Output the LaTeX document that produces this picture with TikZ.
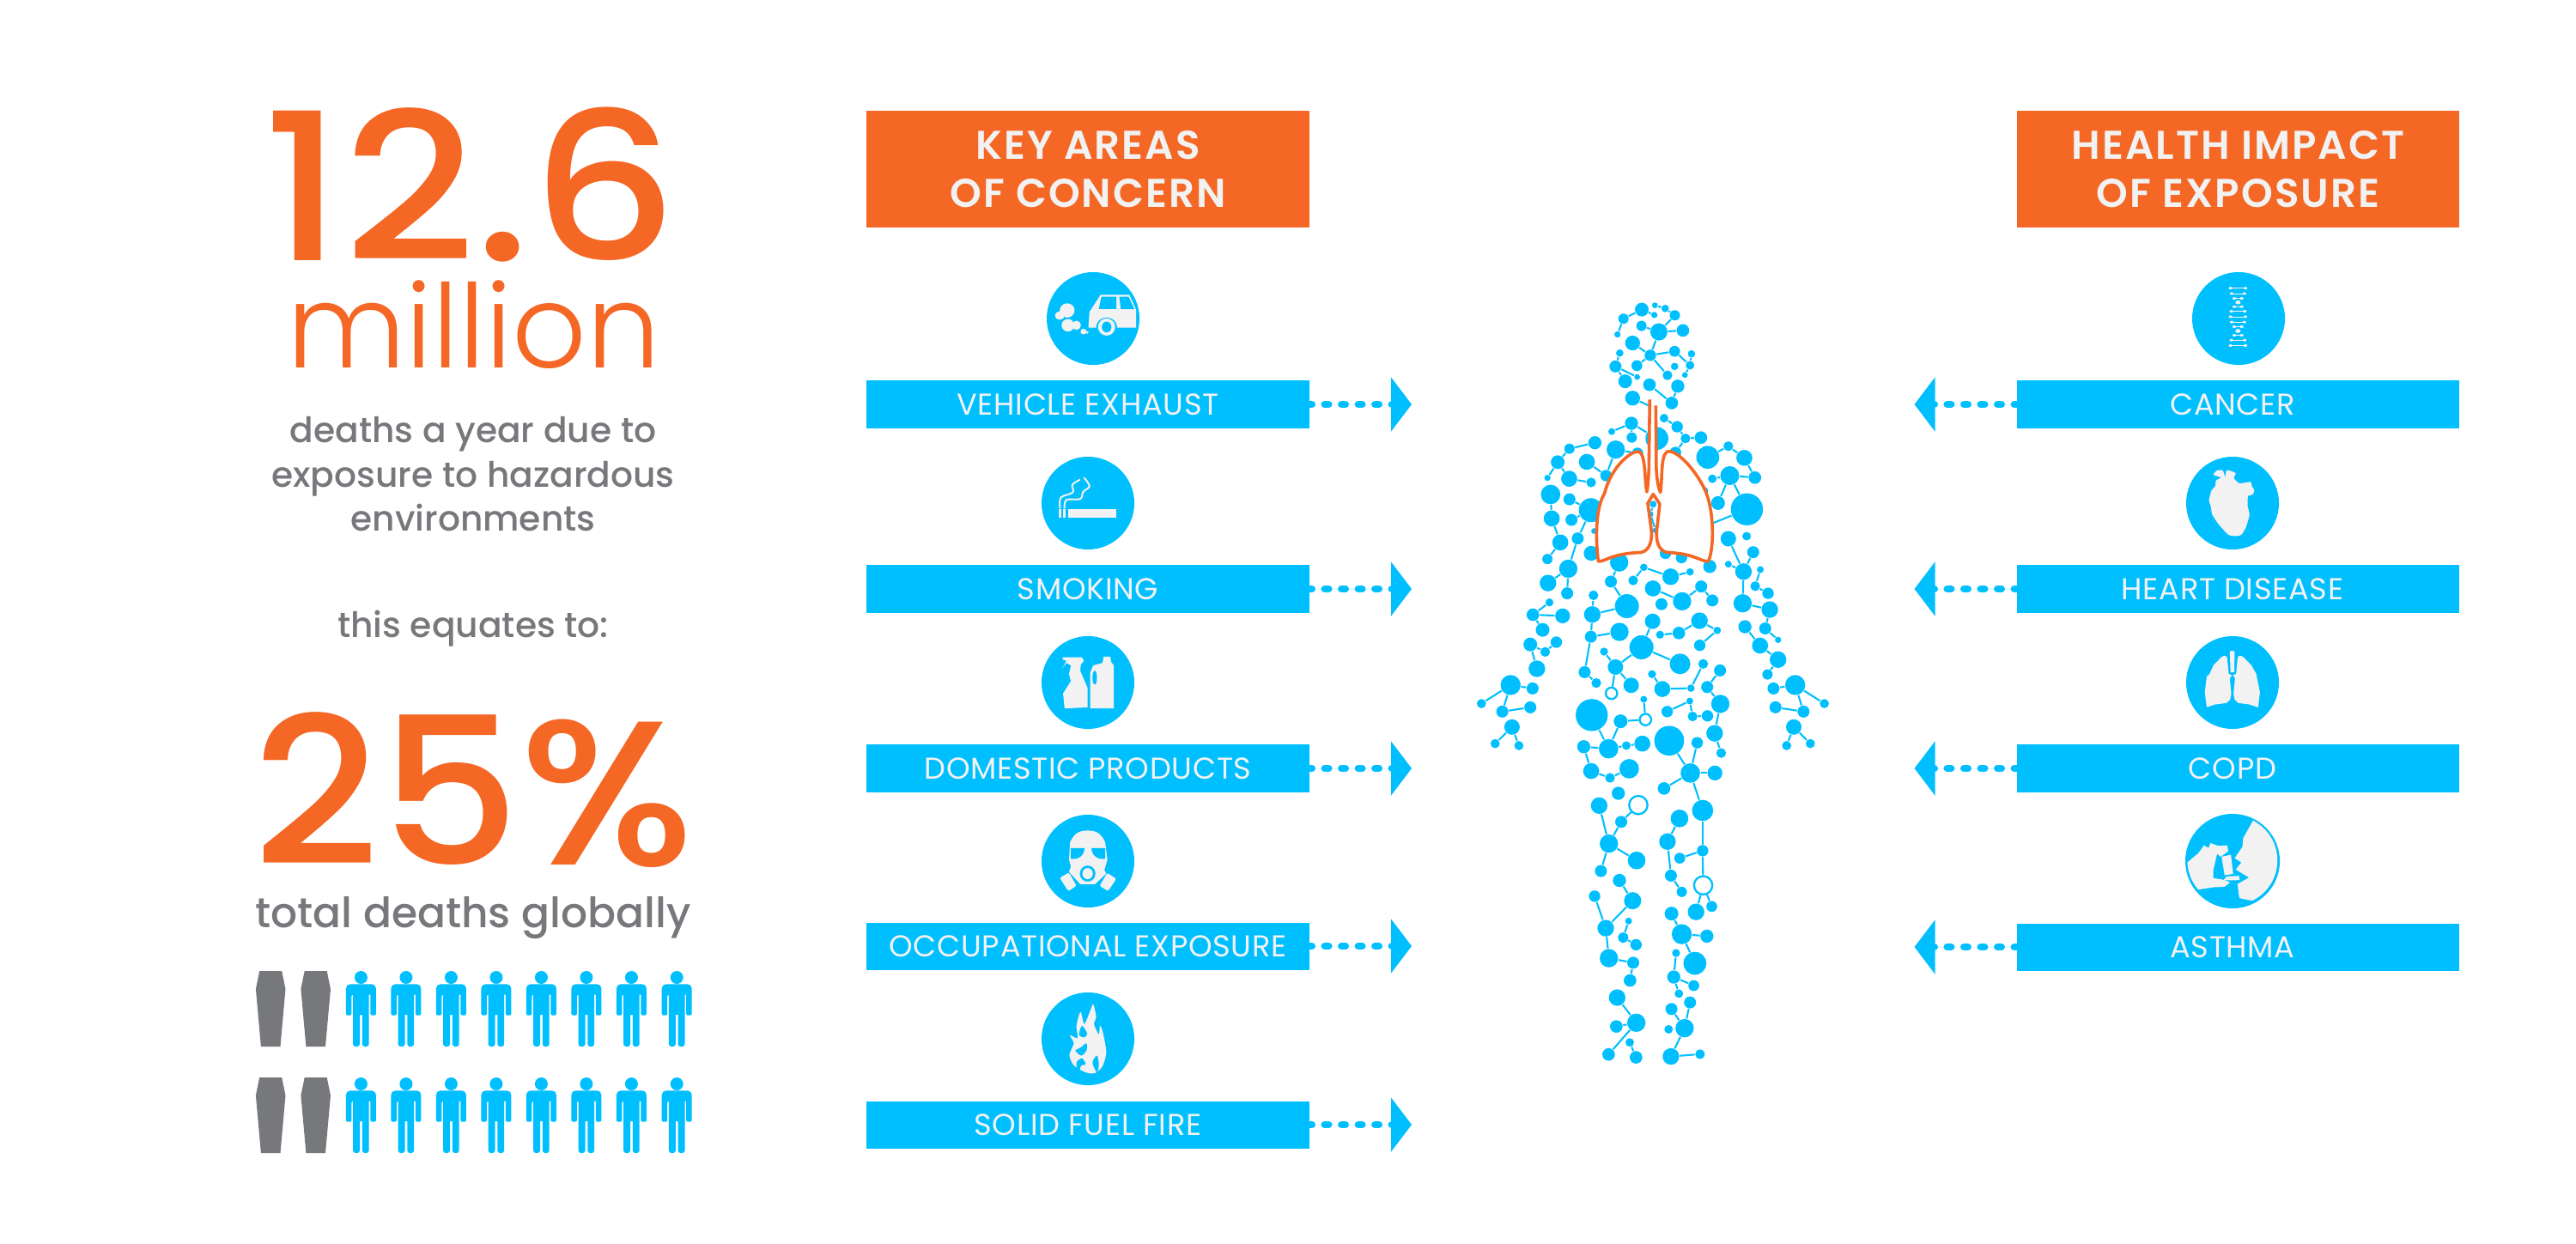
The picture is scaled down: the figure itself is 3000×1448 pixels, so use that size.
\documentclass[tikz,border=0pt]{standalone}
\usepackage{fontspec}
\usepackage{graphicx}
\setmainfont{Poppins}
\newfontfamily\litef{Poppins Light}
\newfontfamily\medf{Poppins Medium}
\newfontfamily\semif{Poppins SemiBold}[LetterSpace=4.5]
\newfontfamily\barf{Poppins}[LetterSpace=2]
\usepackage{tikz}
\usetikzlibrary{positioning}
\usetikzlibrary{arrows.meta}
\definecolor{skyb}{HTML}{00BFFF}
\definecolor{orng}{HTML}{F46725}
\definecolor{grayt}{HTML}{77787B}
\definecolor{iconw}{HTML}{F2F2F2}

\begin{document}
\begin{tikzpicture}[x=.01cm, y=-.01cm, >=Triangle,
    bar/.style = {fill=skyb, text=iconw, inner sep=0pt, minimum width=5.15cm, minimum height=.55cm, font=\barf\fontsize{10}{11}\selectfont},
    head/.style = {fill=orng, text=iconw, inner sep=0pt, minimum width=5.15cm, minimum height=1.35cm, align=center, font=\semif\fontsize{13.3}{16}\selectfont},
    disc/.style = {circle, fill=skyb, inner sep=0pt, minimum size=1.08cm},
    rlink/.style = {draw=skyb, fill=skyb, line width=.087cm, line cap=round, dash pattern=on .043cm off .152cm, dash phase=.02cm, -{Triangle[length=.24cm, width=.62cm]}},
    mol/.style = {circle, fill=skyb, inner sep=0pt, minimum size=#1*.00667cm},
    ring/.style = {circle, draw=skyb, fill=white, line width=.0233cm, inner sep=0pt, minimum size=#1*.00667cm},
    bond/.style = {draw=skyb, line width=.021cm},
    lung/.style = {draw=orng, fill=white, line width=.036cm, line join=round},
    zoomb/.style = {x=.004336cm, y=-.003333cm},
    zoomc/.style = {x=.004336cm, y=-.00408cm},
    bigt/.style = {text=orng, inner sep=0pt, anchor=base},
    grayl/.style = {text=grayt, inner sep=0pt, anchor=base},
    person/.pic = {
        \fill[skyb] (0,7.5) circle [radius=7.5];
        \fill[skyb] (-11,27.7) -- (-9.3,27.7) [rounded corners=.03cm] -- (-9.3,88) -- (-1.4,88) [sharp corners] -- (-1.4,51) -- (1.4,51) [rounded corners=.03cm] -- (1.4,88) -- (9.3,88) [sharp corners] -- (9.3,27.7) -- (11,27.7) [rounded corners=.02cm] -- (11,51.7) -- (17.5,51.7) [rounded corners=.05cm] -- (17.5,15.3) -- (-17.5,15.3) [rounded corners=.02cm] -- (-17.5,51.7) -- (-11,51.7) -- cycle;
    },
    coffin/.pic = {
        \fill[grayt] (-13,0) -- (13,0) -- (17.3,21) -- (11.3,88) -- (-11.3,88) -- (-17.3,21) -- cycle;
    }
    ]
    \useasboundingbox (0,0) rectangle (3000,1448);

    % left column
    \node (num) [bigt, font=\medf\fontsize{68}{68}\selectfont] at (548,303) {\scalebox{1.114}[1]{12.6}};
    \node (mil) [bigt, font=\litef\fontsize{38.5}{38.5}\selectfont] at (552,428) {million};
    \node (d1) [grayl, font=\medf\fontsize{11.6}{14}\selectfont] at (551,515) {deaths a year due to};
    \node (d2) [grayl, font=\medf\fontsize{11.6}{14}\selectfont] at (551,567) {exposure to hazardous};
    \node (d3) [grayl, font=\medf\fontsize{11.6}{14}\selectfont] at (551,618) {environments};
    \node (eqt) [grayl, font=\medf\fontsize{11.6}{14}\selectfont] at (551,742) {this equates to:};
    \node (pct) [bigt, font=\medf\fontsize{68}{68}\selectfont] at (552,1007) {\scalebox{1.07}[1]{25\%}};
    \node (tot) [grayl, font=\medf\fontsize{13.85}{15}\selectfont] at (551,1080) {total deaths globally};

    \foreach \yy in {1131,1255} {
        \foreach \xx in {315.2,367.7} \pic at (\xx,\yy) {coffin};
        \foreach \xx in {420.4,472.9,525.4,577.9,630.4,682.9,735.4,788.2} \pic at (\xx,\yy) {person};
    }

    % key areas
    \node (lh) [head] at (1267,197) {KEY AREAS\\OF CONCERN};
    \node (rh) [head] at (2606.5,197) {HEALTH IMPACT\\OF EXPOSURE};

    \foreach \i/\yy/\lab in {1/471/VEHICLE EXHAUST, 2/686/SMOKING, 3/895/DOMESTIC PRODUCTS, 4/1102/OCCUPATIONAL EXPOSURE, 5/1310/SOLID FUEL FIRE} {
        \node (lb\i) [bar] at (1267,\yy) {\lab};
        \coordinate (le\i) at (1644,\yy);
        \draw[rlink] (lb\i) -- (le\i);
    }
    \foreach \i/\yy/\lab in {1/471/CANCER, 2/686/HEART DISEASE, 3/895/COPD, 4/1103/ASTHMA} {
        \node (rb\i) [bar] at (2606.5,\yy) {\lab\kern.13cm};
        \coordinate (re\i) at (2229.5,\yy);
        \draw[rlink] (rb\i) -- (re\i);
    }

    \node (lc1) [disc] at (1273,371) {};
    \node (lc2) [disc] at (1267,586) {};
    \node (lc3) [disc] at (1267,795) {};
    \node (lc4) [disc] at (1267,1003) {};
    \node (lc5) [disc] at (1267,1210) {};
    \node (rc1) [disc] at (2607,371) {};
    \node (rc2) [disc] at (2600,586) {};
    \node (rc3) [disc] at (2600,795) {};
    \node (rc4) [disc, minimum size=1.1cm] at (2600,1003) {};

    % icons
    \begin{scope}[shift={(1000,300)}, zoomb]
        \fill[iconw] (617,245) -- (620,190) -- (650,130) -- (727,130) -- (745,182) -- (745,245) -- cycle;
        \fill[skyb] (652,137) -- (692,137) -- (692,180) -- (645,180) -- cycle;
        \fill[skyb] (700,137) -- (725,137) -- (741,181) -- (704,180) -- cycle;
        \fill[skyb] (666,243) ellipse [x radius=28, y radius=33];
        \fill[iconw] (666,243) ellipse [x radius=23, y radius=30];
        \fill[skyb] (666,243) ellipse [x radius=13, y radius=19];
        \foreach \px/\py/\rx/\ry in {560/185/20/25, 540/203/13/15, 562/237/17/22, 585/237/12/16, 604/259/8/10, 614/262/4/5}
            \fill[iconw] (\px,\py) ellipse [x radius=\rx, y radius=\ry];
        \fill[iconw] (562,880) rectangle (693,911);
        \fill[iconw] (538,880) rectangle (544,911);
        \fill[iconw] (550,880) rectangle (556,911);
        \draw[iconw, line width=.02cm] plot[smooth, tension=.6] coordinates {(541,878) (543,840) (575,822) (574,795) (595,777)};
        \draw[iconw, line width=.02cm] plot[smooth, tension=.6] coordinates {(553,878) (558,848) (595,845) (603,820) (620,800) (605,770)};
    \end{scope}
    \begin{scope}[shift={(1000,720)}, zoomc]
        \fill[iconw] (548,112) -- (600,112) -- (605,122) -- (597,132) -- (595,150) -- (615,200) -- (615,255) -- (553,258) -- (549,215) -- (570,180) -- (565,160) -- (570,135) -- (558,128) -- (548,142) -- (558,122) -- (548,118) -- cycle;
        \fill[iconw] (622,258) -- (622,155) -- (630,135) -- (655,128) -- (658,110) -- (676,110) -- (678,125) -- (685,135) -- (685,258) -- cycle;
        \fill[skyb] (634,170) ellipse [x radius=6, y radius=20];
        \fill[iconw] (565,690) -- (568,640) .. controls (580,612) and (595,607) .. (615,607) .. controls (635,607) and (650,612) .. (662,640) -- (668,690) -- (660,720) -- (665,730) -- (635,760) -- (595,760) -- (565,725) -- (570,710) -- cycle;
        \fill[skyb] (570,657) -- (607,657) .. controls (605,680) and (590,690) .. (570,688) -- cycle;
        \fill[skyb] (662,657) -- (625,657) .. controls (627,680) and (642,690) .. (662,688) -- cycle;
        \fill[skyb] (615,730) ellipse [x radius=21, y radius=23];
        \fill[iconw] (615,730) ellipse [x radius=14, y radius=16];
        \fill[iconw, rounded corners=.015cm] (540,742) -- (565,727) -- (585,765) -- (563,780) -- cycle;
        \fill[iconw, rounded corners=.015cm] (647,765) -- (668,728) -- (692,745) -- (670,780) -- cycle;
        \fill[iconw] plot[smooth cycle, tension=.45] coordinates {(610,1298) (578,1278) (566,1248) (578,1215) (567,1192) (588,1200) (585,1165) (596,1125) (606,1160) (622,1122) (630,1103) (638,1140) (632,1160) (645,1190) (648,1165) (655,1180) (665,1240) (655,1280) (635,1300)};
        \fill[skyb] plot[smooth cycle, tension=.5] coordinates {(600,1165) (592,1190) (605,1198) (614,1188)};
        \fill[skyb] plot[smooth cycle, tension=.5] coordinates {(612,1215) (612,1235) (598,1250) (582,1236) (595,1228)};
        \fill[skyb] plot[smooth cycle, tension=.5] coordinates {(590,1298) (585,1270) (600,1258) (610,1275) (598,1278)};
        \fill[skyb] plot[smooth cycle, tension=.5] coordinates {(640,1298) (628,1270) (640,1250) (645,1275)};
    \end{scope}
    \begin{scope}[shift={(2220,300)}, zoomb]
        \foreach \py/\wd in {107/20,126/17,143/10,172/10,188/18,207/20,226/17,242/10,272/10,289/18,308/20} {
            \draw[iconw, line width=.006cm] (891-\wd,\py) -- (891+\wd,\py);
            \fill[iconw] (891-\wd,\py) ellipse [x radius=5, y radius=4.5];
            \fill[iconw] (891+\wd,\py) ellipse [x radius=5, y radius=4.5];
        }
        \fill[iconw] (891,157) ellipse [x radius=7, y radius=7];
        \fill[iconw] (891,257) ellipse [x radius=7, y radius=7];
        \fill[iconw] plot[smooth cycle, tension=.35] coordinates {(885,975) (865,970) (840,935) (822,900) (818,870) (813,850) (820,815) (830,800) (832,780) (845,770) (825,760) (835,745) (850,745) (857,768) (860,745) (872,747) (885,755) (880,772) (895,790) (925,785) (928,800) (935,815) (930,830) (918,835) (917,870) (922,900) (912,945) (900,970)};
    \end{scope}
    \begin{scope}[shift={(2220,720)}, zoomb]
        \fill[iconw] (866,195) -- (862,140) .. controls (860,128) and (850,128) .. (840,145) -- (825,165) -- (815,195) -- (807,205) -- (802,260) -- (807,312) -- (830,302) -- (860,297) -- (870,285) -- (873,265) -- (869,210) -- (875,200) -- cycle;
        \fill[iconw] (886,195) -- (890,140) .. controls (892,128) and (902,128) .. (912,145) -- (927,165) -- (940,195) -- (947,240) -- (950,260) -- (945,312) -- (922,302) -- (892,297) -- (882,285) -- (879,265) -- (883,210) -- (877,200) -- cycle;
        \fill[iconw] (869,115) -- (882,115) -- (881,190) -- (871,190) -- cycle;
        \begin{scope}
            \clip (876,848) ellipse [x radius=121, y radius=157];
            \fill[iconw] (935,700) -- (905,770) -- (903,800) -- (882,840) -- (900,855) -- (885,880) -- (920,908) -- (890,930) -- (893,965) -- (895,980) -- (933,990) -- (1010,990) -- (1010,700) -- cycle;
            \fill[iconw] (745,855) -- (755,855) -- (785,822) -- (800,795) -- (812,805) -- (817,787) -- (838,797) -- (862,795) -- (865,815) -- (845,835) -- (835,825) -- (825,880) -- (825,910) -- (850,915) -- (870,925) -- (855,940) -- (825,942) -- (785,950) -- (760,950) -- cycle;
        \end{scope}
        \fill[iconw] (847,835) -- (872,828) -- (878,895) -- (855,900) -- cycle;
        \fill[iconw] (852,918) -- (860,904) -- (894,902) -- (895,917) -- cycle;
        \draw[skyb, line width=.006cm] (888,885) -- (918,908) -- (892,926);
    \end{scope}

    % body
    \begin{scope}[shift={(1680,320)}, x=.00333cm, y=-.00333cm]
        \foreach \nm/\px/\py/\rd in {
            h1/697/122/24, h2/633/154/18, h3/612/209/11, h4/741/141/11, h5/743/107/10, h6/779/118/13, h7/813/142/18, h8/757/200/30, h9/841/195/22,
            h10/696/179/18, h11/665/239/26, h12/727/282/20, h13/812/268/19, h14/871/277/13, h15/866/317/15, h16/848/351/10, h17/812/321/13, h18/620/274/13,
            h19/605/321/21, h20/680/318/19, h21/787/352/17, h22/681/358/10, h23/639/373/24, h24/724/385/22, h25/823/390/23, h26/802/449/22, h27/665/432/26,
            t1/661/520/23, t2/592/549/12, t3/662/570/18, t4/750/573/40, t5/775/502/15, t6/821/532/20, t7/850/573/17, t8/904/570/22, t9/815/622/20,
            t10/606/612/32, t11/682/625/20, t12/533/588/23, t13/444/609/18, t14/403/656/24, t15/367/711/11, t16/505/655/28, t17/443/714/28, t18/520/727/17,
            t19/572/703/20, t20/378/769/34, t21/444/786/21, t22/382/853/28, t23/451/858/21, t24/519/824/42, t25/412/937/28, t26/367/995/18, t27/473/923/21,
            t28/440/1029/32, t29/369/1079/29, t30/436/1115/21, t31/520/975/26, t32/530/897/10, t33/618/1007/32, t34/589/1074/21, t35/645/1160/42, t36/528/1122/17,
            t37/524/1189/29, t38/619/1250/32, t39/519/1267/21, t40/497/1391/21, t41/538/1429/17, t42/565/1319/14, t43/605/1373/27, t44/660/1437/27,
            t46/696/1304/42, t47/735/1213/27, t48/831/1362/36, t49/899/1211/29, t50/961/1245/13, t51/827/1254/22, t52/761/1260/14, t53/900/1297/20, t54/912/1362/17,
            t55/869/1447/13, t56/769/1450/28, t57/733/1398/14, t58/971/1385/21, t59/926/1443/21, t60/972/1502/32,
            c1/704/1024/13, c2/667/1070/17, c3/798/1057/29, c4/866/1040/13, c5/736/1098/28, c6/838/1143/32, c7/905/1091/21, c8/944/1140/21, c9/766/1153/21,
            c10/780/975/20, c11/836/990/20, c12/935/1021/23, c13/915/757/15, l1/737/803/12, l2/728/838/10, l3/745/895/10,
            r1/928/639/40, r2/1000/600/17, r3/1056/641/28, r4/1005/703/33, r5/1093/710/22, r6/944/714/15, r7/964/799/24, r8/1065/821/56, r10/1000/924/27,
            r11/1064/915/15, r12/1087/971/21, r13/1000/1013/12, r14/1053/1039/29, r15/1112/1032/12, r16/1094/1090/17, r17/1139/1115/20, r18/1050/1150/32, r19/1145/1172/29,
            r20/1058/1232/23, r21/1129/1238/21, r22/1174/1278/11, r23/1111/1298/28, r24/1174/1347/29, r25/1137/1399/18, r26/1234/1436/35, r27/1158/1448/21, r28/1336/1501/16,
            r29/1165/1514/21, r30/1263/1529/21, r31/1229/1583/27, r32/1204/1648/16, r33/1287/1641/16,
            a1/374/1147/14, a2/316/1190/22, a3/420/1194/26, a4/350/1243/24, a5/307/1294/24, a6/398/1286/20, a7/359/1320/17, a8/330/1379/29, a9/238/1436/35,
            a10/315/1448/21, a11/136/1501/16, a12/209/1529/21, a13/307/1514/21, a14/243/1583/27, a15/184/1641/16, a16/267/1648/16,
            b1/522/1541/56, b2/623/1563/24, b4/704/1486/12, b5/581/1659/34, b6/494/1652/23, b7/643/1648/15, b8/699/1641/28, b9/520/1737/28, b10/586/1761/17,
            b11/653/1729/34, b12/786/1529/20, b13/865/1492/12, b14/875/1546/17, b15/927/1544/20, b16/952/1605/29, b17/975/1674/17, b18/793/1631/52, b19/891/1638/20,
            b20/867/1744/34, b21/953/1744/26, b22/775/1798/22, b23/910/1875/37, b24/615/1815/23, b25/548/1858/29, b27/625/1915/21, b28/582/1991/32, b29/679/2050/31,
            b30/554/2087/21, b31/829/1903/31, b32/787/1984/29, b33/830/2042/19, b34/910/2016/20, b35/799/2103/21, b36/837/2160/18, b38/887/2230/29, b39/942/2211/19,
            b40/619/2120/23, b41/665/2191/30, b42/532/2175/20, b43/571/2287/29, b44/651/2262/12, b45/632/2320/18, b46/677/2345/20, b47/582/2392/32, b48/667/2408/21,
            b49/656/2470/22, b50/801/2236/24, b51/837/2308/35, b52/925/2315/23, b53/883/2410/40, b54/817/2374/14, b55/809/2458/23, b56/879/2488/19, b57/827/2516/15,
            b58/866/2547/21, b59/801/2570/21, b60/847/2637/32, b61/791/2641/15, b62/799/2736/29, b63/901/2728/17, b64/611/2530/29, b65/678/2618/32, b66/608/2631/22,
            b67/581/2729/22, b68/655/2687/15, b69/677/2739/22}
            \node (\nm) [mol=\rd] at (\px,\py) {};
        \foreach \nm/\px/\py/\rd in {t45/591/1465/20, b3/710/1557/20, b26/685/1856/32, b37/912/2137/32}
            \node (\nm) [ring=\rd] at (\px,\py) {};
        \coordinate (trc) at (730,462);
        \coordinate (lng) at (940,872);

        \foreach \ea/\eb in {
            h1/h2, h2/h3, h1/h4, h5/h6, h6/h7, h7/h8, h8/h9, h8/h10, h8/h12, h11/h12, h12/h13, h13/h15, h14/h15, h15/h16, h12/h21, h12/h20, h18/h19, h19/h22, h19/h23, h24/h26, h25/h26, h27/trc,
            t1/t2, t1/t3, t1/t4, t5/t6, t6/t7, t7/t8, t7/t9, t10/t11, t10/t19, t12/t13, t13/t14, t14/t15, t14/t17, t17/t18, t16/t19, t20/t22, t21/t24, t22/t25, t23/t24, t24/t27, t25/t26, t27/t28, t28/t29, t28/t30,
            t33/t34, t34/t35, t35/t37, t36/t37, t37/t39, t38/t39, t39/t40, t40/t41, t42/t43, t43/t44, t43/t45, t43/t46, t46/t48, t46/t47, t49/t51, t51/t52, t49/t50, t50/t53, t54/t55, t55/t56, t56/t57, t58/t59, t59/t60,
            c1/c2, c1/c3, c3/c4, c5/c6, c6/c7, c7/c8, l1/l2, l2/l3,
            r1/r2, r2/r3, r3/r5, r4/r5, r4/r6, r4/r7, r4/r8, r8/lng, r10/r14, r12/r14, r13/r14, r14/r18, r15/r16, r16/r17, r18/r19, r19/r21, r20/r23, r21/r22, r23/r24, r24/r25, r26/r27, r26/r28, r26/r30, r30/r29, r31/r32, r31/r33,
            a1/a2, a2/a3, a2/a4, a5/a7, a6/a7, a5/a8, a9/a10, a9/a11, a9/a12, a12/a13, a14/a15, a14/a16,
            b1/b5, b2/b5, b2/b3, b3/b4, b5/b6, b5/b7, b7/b8, b6/b9, b9/b10, b10/b11, b12/b13, b13/b14, b14/b15, t60/b16, b16/b17, b18/b20, b19/b20, b20/b21, b20/b22, b20/b23, b23/b34, b34/b33, b34/b37, b37/b38, b37/b39,
            b25/b28, b26/b27, b27/b28, b28/b29, b28/b30, b31/b32, b32/b35, b35/b36, b40/b41, b41/b43, b42/b43, b43/b47, b44/b45, b45/b46, b47/b48, b48/b49, b50/b51, b51/b52, b51/b53, b54/b55, b55/b56, b55/b57,
            b58/b60, b59/b60, b60/b62, b62/b63, b64/b65, b65/b66, b65/b67, b68/b69}
            \draw[bond] (\ea) -- (\eb);

        \draw[lung] (725,437) -- (722,680) .. controls (720,720) and (718,745) .. (715,760)
            .. controls (706,720) and (712,640) .. (690,620)
            .. controls (665,610) and (590,670) .. (567,765)
            .. controls (545,800) and (530,880) .. (545,1003)
            .. controls (570,1005) and (590,975) .. (695,972)
            .. controls (725,965) and (735,930) .. (730,890)
            -- (718,800) -- (737,768) -- (760,802) -- (750,890)
            .. controls (745,930) and (755,965) .. (785,972)
            .. controls (880,975) and (905,1005) .. (930,1003)
            .. controls (950,960) and (950,840) .. (925,770)
            .. controls (895,690) and (815,605) .. (785,620)
            .. controls (762,635) and (770,720) .. (762,762)
            .. controls (755,745) and (750,720) .. (748,680) -- (746,458);
    \end{scope}
\end{tikzpicture}
\end{document}
